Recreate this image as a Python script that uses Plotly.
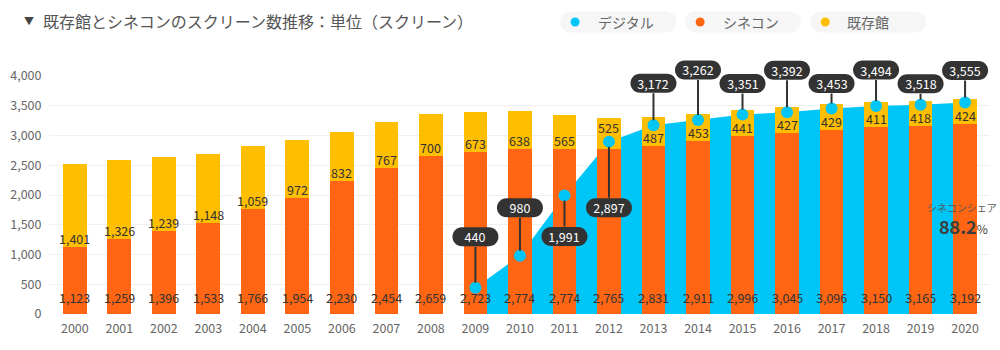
import plotly.graph_objects as go

# ---------------- data ----------------
years = list(range(2000, 2021))
cinecon = [1123, 1259, 1396, 1533, 1766, 1954, 2230, 2454, 2659, 2723, 2774,
           2774, 2765, 2831, 2911, 2996, 3045, 3096, 3150, 3165, 3192]
existing = [1401, 1326, 1239, 1148, 1059, 972, 832, 767, 700, 673, 638,
            565, 525, 487, 453, 441, 427, 429, 411, 418, 424]
digital_years = list(range(2009, 2021))
digital = [440, 980, 1991, 2897, 3172, 3262, 3351, 3392, 3453, 3494, 3518, 3555]
series_names = ["デジタル", "シネコン", "既存館"]
title_text = "既存館とシネコンのスクリーン数推移：単位（スクリーン）"
share_label = "シネコンシェア"
share_value = "88.2"

# ---------------- style ----------------
FONT = "Noto Sans CJK JP"
C_DIG = "#00C6F8"
C_CIN = "#FF6512"
C_EXI = "#FFBF00"
C_DARK = "#333333"
W, H = 1000, 350
PL, PR, PT, PB = 42, 990, 76, 314
XR = [1999.42, 2020.56]
YR = [0, 4000]
# pixel offsets of the dark value labels relative to their points
label_dy = [-51, -48, 41, 66, -42, -50, -31, -42, -25, -36, -21, -32]
exi_shift = {2012: 22}


def px_x(px):
    return (px - PL) / (PR - PL)


def px_y(py):
    return (PB - py) / (PB - PT)


def dx_paper(v):
    return (v - XR[0]) / (XR[1] - XR[0])


def dy_paper(v):
    return (v - YR[0]) / (YR[1] - YR[0])


def rounded(cx, cy, w, h, r):
    x0, x1 = cx - w / 2, cx + w / 2
    y0, y1 = cy - h / 2, cy + h / 2
    k = 0.5523 * r
    return (f"M{x0+r},{y0} L{x1-r},{y0} C{x1-r+k},{y0} {x1},{y0+r-k} {x1},{y0+r} "
            f"L{x1},{y1-r} C{x1},{y1-r+k} {x1-r+k},{y1} {x1-r},{y1} "
            f"L{x0+r},{y1} C{x0+r-k},{y1} {x0},{y1-r+k} {x0},{y1-r} "
            f"L{x0},{y0+r} C{x0},{y0+r-k} {x0+r-k},{y0} {x0+r},{y0} Z")


fig = go.Figure()

fig.add_trace(go.Scatter(
    x=digital_years, y=digital, mode="lines", fill="tozeroy",
    line=dict(width=0, color=C_DIG), fillcolor=C_DIG, zorder=-1,
    showlegend=False, hoverinfo="skip"))

fig.add_trace(go.Bar(x=years, y=cinecon, marker=dict(color=C_CIN, line=dict(width=0)),
                     width=0.535, name=series_names[1], showlegend=False, zorder=0))
fig.add_trace(go.Bar(x=years, y=existing, marker=dict(color=C_EXI, line=dict(width=0)),
                     width=0.535, name=series_names[2], showlegend=False, zorder=0))

fig.add_trace(go.Scatter(
    x=digital_years, y=digital, mode="markers",
    marker=dict(color=C_DIG, size=12, line=dict(width=0)), zorder=1,
    showlegend=False, hoverinfo="skip"))

annotations = []
shapes = []

# bar value labels
for yr, c, e in zip(years, cinecon, existing):
    annotations.append(dict(x=yr, y=0, xref="x", yref="y", text=f"{c:,}",
                            showarrow=False, yshift=17, yanchor="middle",
                            font=dict(family=FONT, size=12.5, color=C_DARK)))
    annotations.append(dict(x=yr, y=c, xref="x", yref="y", text=f"{e:,}",
                            showarrow=False, yshift=exi_shift.get(yr, 8.5), yanchor="middle",
                            font=dict(family=FONT, size=12.5, color=C_DARK)))

# digital value call-outs
for yr, v, dy in zip(digital_years, digital, label_dy):
    shapes.append(dict(type="path", xref="paper", yref="paper", xsizemode="pixel",
                       ysizemode="pixel", xanchor=dx_paper(yr), yanchor=dy_paper(v),
                       path=rounded(0, -dy, 46, 19, 9.5),
                       fillcolor=C_DARK, line=dict(width=0), layer="above"))
    annotations.append(dict(x=yr, y=v, xref="x", yref="y", text=f"{v:,}",
                            showarrow=True, ax=0, ay=dy, arrowhead=0, arrowwidth=2,
                            arrowcolor=C_DARK, standoff=5, width=46, height=19, borderpad=0,
                            font=dict(family=FONT, size=12.5, color="white")))

# title
annotations.append(dict(x=px_x(15), y=px_y(21), xref="paper", yref="paper", text="▼",
                        showarrow=False, xanchor="left", yanchor="middle",
                        font=dict(family=FONT, size=10, color="#444")))
annotations.append(dict(x=px_x(34), y=px_y(21), xref="paper", yref="paper", text=title_text,
                        showarrow=False, xanchor="left", yanchor="middle",
                        font=dict(family=FONT, size=16, color="#555")))

# custom legend
leg_cols = [C_DIG, C_CIN, C_EXI]
pill_cx = [615.5, 741, 867.5]
dot_x = [572, 698, 824]
text_x = [593, 719, 844]
for name, col, cx, dx, tx in zip(series_names, leg_cols, pill_cx, dot_x, text_x):
    shapes.append(dict(type="path", xref="paper", yref="paper", xsizemode="pixel",
                       ysizemode="pixel", xanchor=px_x(cx), yanchor=px_y(22),
                       path=rounded(0, 0, 116, 21, 10.5), fillcolor="#F6F6F6",
                       line=dict(width=0), layer="above"))
    shapes.append(dict(type="circle", xref="paper", yref="paper", xsizemode="pixel",
                       ysizemode="pixel", xanchor=px_x(dx), yanchor=px_y(22),
                       x0=-4.5, x1=4.5, y0=-4.5, y1=4.5, fillcolor=col,
                       line=dict(width=0), layer="above"))
    annotations.append(dict(x=px_x(tx), y=px_y(22), xref="paper", yref="paper", text=name,
                            showarrow=False, xanchor="left", yanchor="middle",
                            font=dict(family=FONT, size=14, color="#666")))

# share note
annotations.append(dict(x=px_x(962), y=px_y(207), xref="paper", yref="paper", text=share_label,
                        showarrow=False, xanchor="center", yanchor="middle",
                        font=dict(family=FONT, size=10, color="#555")))
annotations.append(dict(x=px_x(963), y=px_y(226), xref="paper", yref="paper",
                        text=f"<b>{share_value}</b><span style='font-size:12px'>%</span>",
                        showarrow=False, xanchor="center", yanchor="middle",
                        font=dict(family=FONT, size=18, color="#3d3d3d")))

fig.update_layout(
    width=W, height=H, barmode="stack", bargap=0,
    margin=dict(l=PL, r=W - PR, t=PT, b=H - PB),
    paper_bgcolor="white", plot_bgcolor="white",
    font=dict(family=FONT, size=12.5, color="#666"),
    xaxis=dict(range=XR, tickmode="array", tickvals=years,
               ticktext=[str(y) for y in years], showgrid=False, zeroline=False,
               showline=False, ticks="", ticklabelstandoff=5,
               tickfont=dict(family=FONT, size=12.5, color="#666")),
    yaxis=dict(range=YR, tickmode="array", tickvals=list(range(0, 4001, 500)),
               tickformat=",", showgrid=True, gridcolor="#F0F0F0", gridwidth=1,
               zeroline=False, showline=True, linecolor="#E2E2E2", linewidth=2,
               ticks="", ticklabelstandoff=3,
               tickfont=dict(family=FONT, size=12.5, color="#666")),
    shapes=shapes, annotations=annotations, hovermode=False,
)

fig.write_html("out.html")
